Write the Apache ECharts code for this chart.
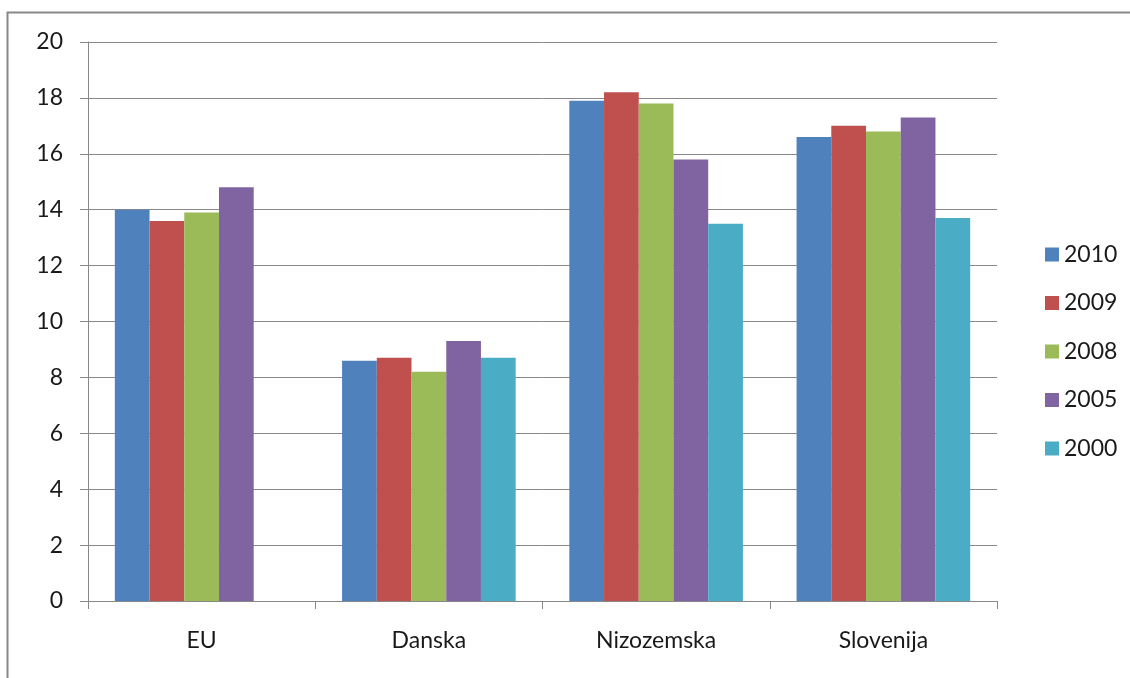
<!DOCTYPE html>
<html><head><meta charset="utf-8">
<script src="https://cdn.jsdelivr.net/npm/echarts@6/dist/echarts.min.js"></script>
<style>html,body{margin:0;padding:0;background:#fff}#c{width:1130px;height:678px}</style>
</head><body><div id="c"></div>
<script>
var categories = ['EU', 'Danska', 'Nizozemska', 'Slovenija'];
var seriesNames = ['2010', '2009', '2008', '2005', '2000'];
var v2010 = [14.0, 8.6, 17.9, 16.6];
var v2009 = [13.6, 8.7, 18.2, 17.0];
var v2008 = [13.9, 8.2, 17.8, 16.8];
var v2005 = [14.8, 9.3, 15.8, 17.3];
var v2000 = [null, 8.7, 13.5, 13.7];
var yTicks = [0, 2, 4, 6, 8, 10, 12, 14, 16, 18, 20];

var colors = ['#4F81BD', '#C0504D', '#9BBB59', '#8064A2', '#4BACC6'];
var values = [v2010, v2009, v2008, v2005, v2000];
var font = 'Lato, "Open Sans", sans-serif';
var chart = echarts.init(document.getElementById('c'), null, {renderer: 'canvas'});
chart.setOption({
  animation: false,
  color: colors,
  grid: {left: 88, right: 133, top: 42, bottom: 77, containLabel: false},
  graphic: [
    {type: 'polyline', shape: {points: [[7.5, 678], [7.5, 12.5], [1130, 12.5]]}, style: {stroke: '#888', lineWidth: 2, fill: null}, silent: true}
  ],
  legend: {
    orient: 'vertical', left: 1040, top: 238, padding: 5,
    itemWidth: 14, itemHeight: 14, itemGap: 25.5,
    icon: 'rect',
    textStyle: {fontFamily: font, fontSize: 23, color: '#1a1a1a'},
    data: seriesNames
  },
  xAxis: {
    type: 'category', data: categories,
    axisLine: {show: true, lineStyle: {color: '#888', width: 1}},
    axisTick: {show: true, length: 8, lineStyle: {color: '#888'}},
    axisLabel: {fontFamily: font, fontSize: 23, color: '#1a1a1a', margin: 28}
  },
  yAxis: {
    type: 'value', min: yTicks[0], max: yTicks[yTicks.length-1], interval: 2,
    axisLine: {show: true, lineStyle: {color: '#888', width: 1}},
    axisTick: {show: true, length: 8, lineStyle: {color: '#888'}},
    splitLine: {show: true, lineStyle: {color: '#888', width: 1}},
    axisLabel: {fontFamily: font, fontSize: 23, color: '#1a1a1a', margin: 25}
  },
  series: seriesNames.map(function (n, i) {
    return {name: n, type: 'bar', data: values[i], barGap: '0%', barCategoryGap: '23.6%', itemStyle: {color: colors[i]}};
  })
});
</script></body></html>
